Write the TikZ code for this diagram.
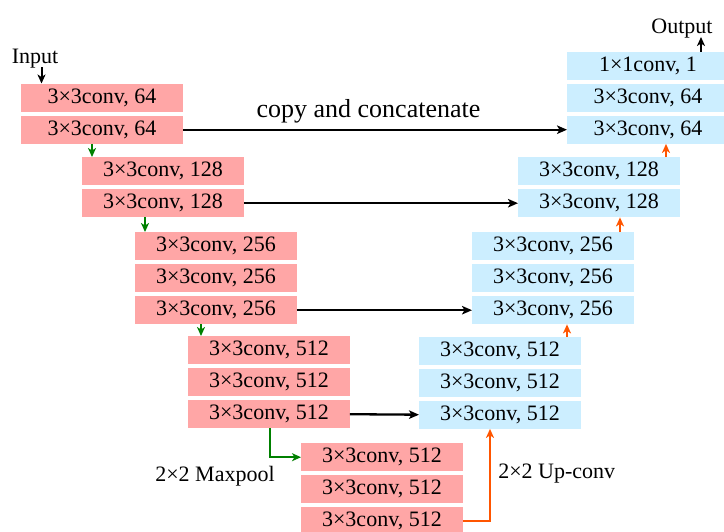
\documentclass[tikz,border=0pt]{standalone}
\usepackage{fontspec}
\setmainfont{Liberation Serif}
\usetikzlibrary{arrows.meta}
\definecolor{encpink}{RGB}{255,166,166}
\definecolor{decblue}{RGB}{204,238,255}
\definecolor{poolgreen}{RGB}{0,128,0}
\definecolor{uporange}{RGB}{255,85,0}
\begin{document}
\begin{tikzpicture}[x=1pt,y=-1pt,
  convbox/.style={rectangle, anchor=north west, minimum width=161.5pt, minimum height=28pt, inner sep=0pt, font=\fontsize{22}{26}\selectfont},
  enc/.style={convbox, fill=encpink},
  dec/.style={convbox, fill=decblue},
  lbl/.style={inner sep=0pt, anchor=base, font=\fontsize{22}{26}\selectfont},
  tip/.style={-{Stealth[length=9pt,width=8pt,inset=2.5pt]}},
  copyarrow/.style={-{Stealth[length=10pt,width=8.5pt,inset=2.5pt]}, line width=2.3pt, black},
  downarrow/.style={tip, line width=2pt, poolgreen},
  uparrow/.style={tip, line width=2pt, uporange}]
\useasboundingbox (0,0) rectangle (724,531);
% encoder
\node[enc] (e1a) at (21,83.5) {3×3conv, 64};
\node[enc] (e1b) at (21,115.5) {3×3conv, 64};
\node[enc] (e2a) at (82,157) {3×3conv, 128};
\node[enc] (e2b) at (82,189) {3×3conv, 128};
\node[enc] (e3a) at (135,232) {3×3conv, 256};
\node[enc] (e3b) at (135,264) {3×3conv, 256};
\node[enc] (e3c) at (135,296) {3×3conv, 256};
\node[enc] (e4a) at (188,336) {3×3conv, 512};
\node[enc] (e4b) at (188,368) {3×3conv, 512};
\node[enc] (e4c) at (188,400) {3×3conv, 512};
\node[enc] (e5a) at (301,443) {3×3conv, 512};
\node[enc] (e5b) at (301,475) {3×3conv, 512};
\node[enc] (e5c) at (301,507) {3×3conv, 512};
% decoder
\node[dec] (d4a) at (419,336.5) {3×3conv, 512};
\node[dec] (d4b) at (419,368.5) {3×3conv, 512};
\node[dec] (d4c) at (419,400.5) {3×3conv, 512};
\node[dec] (d3a) at (472,232) {3×3conv, 256};
\node[dec] (d3b) at (472,264) {3×3conv, 256};
\node[dec] (d3c) at (472,296) {3×3conv, 256};
\node[dec] (d2a) at (518,157) {3×3conv, 128};
\node[dec] (d2b) at (518,189) {3×3conv, 128};
\node[dec] (d1a) at (567,51.5) {1×1conv, 1};
\node[dec] (d1b) at (567,83.5) {3×3conv, 64};
\node[dec] (d1c) at (567,115.5) {3×3conv, 64};
% labels
\node[lbl] (inlbl) at (35,63.3) {Input};
\node[lbl] (outlbl) at (682,33.3) {Output};
\node[lbl, font=\fontsize{26}{30}\selectfont] (copylbl) at (368.5,117.3) {copy and concatenate};
\node[lbl] (poollbl) at (215,481.5) {2×2 Maxpool};
\node[lbl] (uplbl) at (556.7,478.3) {2×2 Up-conv};
% helper coordinates
\coordinate (xin) at (41.5,0);
\coordinate (xout) at (701,0);
\coordinate (g1) at (92,0);
\coordinate (g2) at (145,0);
\coordinate (g3) at (201,0);
\coordinate (xmp) at (269.5,0);
\coordinate (xuc) at (490,0);
\coordinate (o1) at (567,0);
\coordinate (o2) at (620,0);
\coordinate (o3) at (666,0);
\coordinate (inend) at (41.5,67);
\coordinate (outend) at (701,37);
% input / output
\draw[tip, line width=2pt] (inend) -- (e1a.north -| xin);
\draw[tip, line width=2pt] (d1a.north -| xout) -- (outend);
% copy and concatenate
\draw[copyarrow] (e1b.east) -- (d1c.west);
\draw[copyarrow] (e2b.east) -- (d2b.west);
\draw[copyarrow] (e3c.east) -- (d3c.west);
\draw[copyarrow] (e4c.east) -- (d4c.west);
% pooling (down)
\draw[downarrow] (e1b.south -| g1) -- (e2a.north -| g1);
\draw[downarrow] (e2b.south -| g2) -- (e3a.north -| g2);
\draw[downarrow] (e3c.south -| g3) -- (e4a.north -| g3);
\draw[downarrow] (e4c.south -| xmp) |- (e5a.west);
% up-conv (up)
\draw[uparrow] (e5c.east) -| (d4c.south -| xuc);
\draw[uparrow] (d4a.north -| o1) -- (d3c.south -| o1);
\draw[uparrow] (d3a.north -| o2) -- (d2b.south -| o2);
\draw[uparrow] (d2a.north -| o3) -- (d1c.south -| o3);
\end{tikzpicture}
\end{document}
